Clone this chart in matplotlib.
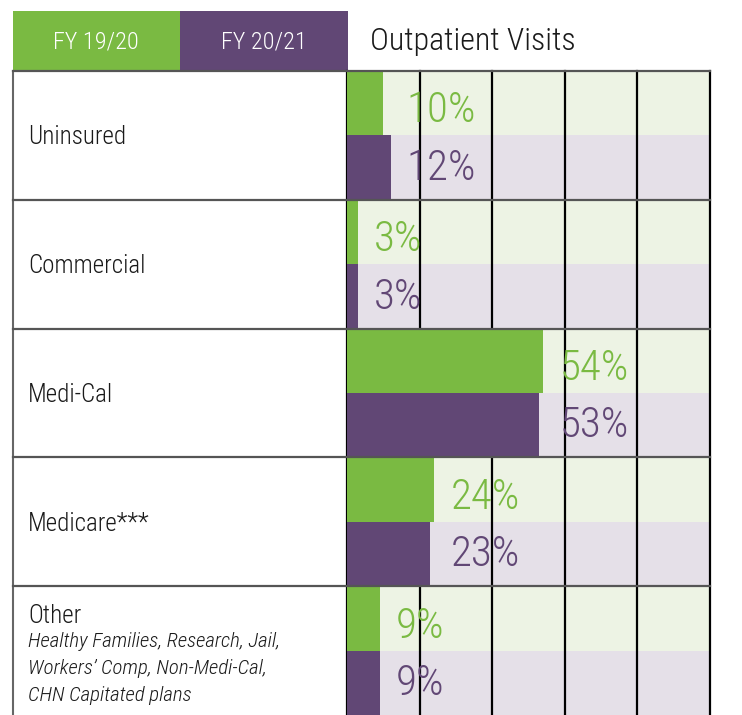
import numpy as np
import matplotlib
matplotlib.use('Agg')
import matplotlib.pyplot as plt
from matplotlib import font_manager
from matplotlib.font_manager import FontProperties
from matplotlib.patches import Rectangle
from matplotlib.transforms import blended_transform_factory

categories = ['Uninsured', 'Commercial', 'Medi-Cal', 'Medicare***', 'Other']
fy1920 = [10, 3, 54, 24, 9]
fy2021 = [12, 3, 53, 23, 9]
years = ['FY 19/20', 'FY 20/21']
title = 'Outpatient Visits'
other_note = ['Healthy Families, Research, Jail,',
              'Workers\u2019 Comp, Non-Medi-Cal,',
              'CHN Capitated plans']
grid_ticks = [0, 20, 40, 60, 80, 100]

green = '#7aba42'
purple = '#614775'
green_bg = '#edf3e4'
purple_bg = '#e5e0e8'
ink = '#1a1a1a'
frame = '#666666'

# look for a light condensed face (the original uses a light condensed grotesque)
fam_rank = ['Roboto Condensed', 'Noto Sans', 'Roboto', 'Open Sans', 'Liberation Sans Narrow']


def find_face(italic, target=300):
    best, best_score = None, None
    for f in font_manager.fontManager.ttflist:
        st = str(f.stretch)
        if 'condensed' not in st and 'Narrow' not in f.name and 'Condensed' not in f.name:
            continue
        if 'extra' in st or 'ultra' in st:
            continue
        if (f.style == 'italic') != italic:
            continue
        w = f.weight if isinstance(f.weight, int) else font_manager.weight_dict.get(f.weight, 400)
        rank = fam_rank.index(f.name) if f.name in fam_rank else len(fam_rank)
        score = rank * 1000 + abs(w - target) + (0 if st == 'condensed' else 40)
        if best_score is None or score < best_score:
            best, best_score = f, score
    return best


up = find_face(False)
it = find_face(True)


def fp(size, italic=False):
    face = it if italic else up
    if face is None:
        return FontProperties(family='Roboto', weight='light', size=size,
                              style='italic' if italic else 'normal')
    return FontProperties(fname=face.fname, size=size)


fig = plt.figure(figsize=(7.42, 7.15), dpi=100)

# page layer (pixel coords) for the header and the table frame
base = fig.add_axes([0, 0, 1, 1])
base.set_xlim(0, 742)
base.set_ylim(715, 0)
base.axis('off')
base.add_patch(Rectangle((13, 11), 167, 60, color=green, lw=0))
base.add_patch(Rectangle((180, 11), 168, 60, color=purple, lw=0))
base.text(96, 42, years[0], color='white', fontproperties=fp(17.5), ha='center', va='center')
base.text(264, 42, years[1], color='white', fontproperties=fp(17.5), ha='center', va='center')
base.text(370, 41, title, color=ink, fontproperties=fp(23), va='center')
base.plot([13, 13], [71, 715], color=frame, lw=1.5)

# bars
ax = fig.add_axes([347 / 742, 0, 363 / 742, 644 / 715])
ax.set_xlim(0, 100)
ax.set_ylim(len(categories) - 0.5, -0.5)
ax.axis('off')
y = np.arange(len(categories))

ax.barh(y - 0.25, 100, height=0.5, color=green_bg, zorder=0)
ax.barh(y + 0.25, 100, height=0.5, color=purple_bg, zorder=0)
for t in grid_ticks:
    ax.axvline(t, color='black', lw=1.6, zorder=1, clip_on=False)
ax.barh(y - 0.25, fy1920, height=0.5, color=green, zorder=2)
ax.barh(y + 0.25, fy2021, height=0.5, color=purple, zorder=2)

for i, (a, b) in enumerate(zip(fy1920, fy2021)):
    lx = max(a, b) + 4.5
    ax.text(lx, i - 0.19, f'{a}%', color=green, fontproperties=fp(31), va='center', zorder=3)
    ax.text(lx, i + 0.255, f'{b}%', color=purple, fontproperties=fp(31), va='center', zorder=3)

# row lines across table and chart
tr = blended_transform_factory(fig.transFigure, ax.transData)
for r in np.arange(-0.5, len(categories) - 0.5, 1.0):
    ax.plot([13 / 742, 710 / 742], [r, r], color='#555555', lw=1.6,
            transform=tr, clip_on=False, zorder=4)

# category labels
for i, c in enumerate(categories[:-1]):
    ax.text(28 / 742, i + 0.015, c, transform=tr, fontproperties=fp(18), color=ink, va='center')
last = len(categories) - 1
ax.text(28 / 742, last - 0.265, categories[-1], transform=tr, fontproperties=fp(18),
        color=ink, va='center')
for k, line in enumerate(other_note):
    ax.text(28 / 742, last - 0.068 + 0.21 * k, line, transform=tr,
            fontproperties=fp(15, italic=True), color=ink, va='center')

fig.savefig('out.png', dpi=100)
